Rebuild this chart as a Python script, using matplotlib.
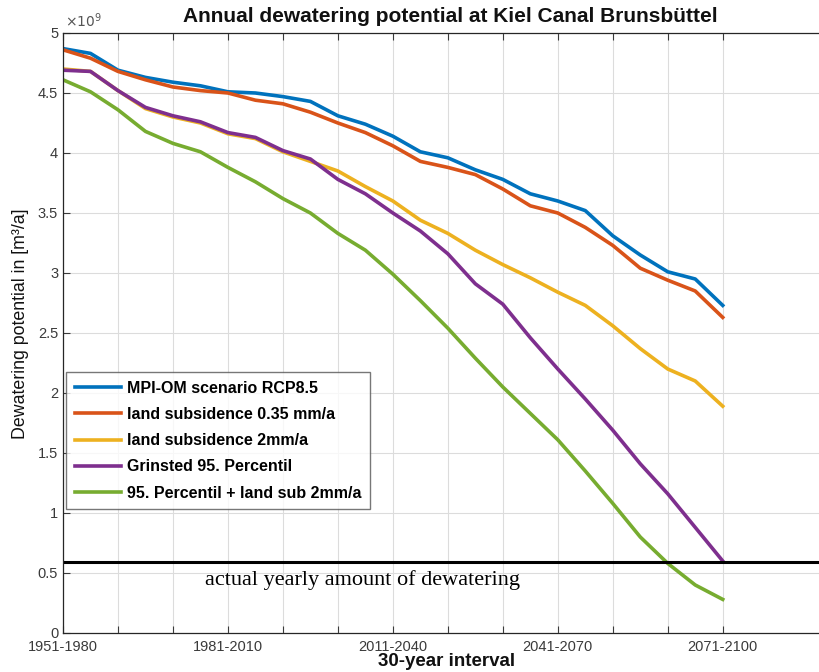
import matplotlib
matplotlib.use("Agg")
import matplotlib.pyplot as plt
import numpy as np

# start year offset (years since 1951) of each 30-year interval
years = list(range(0, 121, 5))

mpi_om = [4.87, 4.83, 4.69, 4.63, 4.59, 4.56, 4.51, 4.50, 4.47, 4.43, 4.31, 4.24, 4.14,
          4.01, 3.96, 3.86, 3.78, 3.66, 3.60, 3.52, 3.31, 3.15, 3.01, 2.95, 2.73]
sub_035 = [4.86, 4.79, 4.68, 4.61, 4.55, 4.52, 4.50, 4.44, 4.41, 4.34, 4.25, 4.17, 4.06,
           3.93, 3.88, 3.82, 3.70, 3.56, 3.50, 3.38, 3.23, 3.04, 2.94, 2.85, 2.63]
sub_2 = [4.70, 4.68, 4.52, 4.37, 4.30, 4.25, 4.16, 4.12, 4.01, 3.93, 3.85, 3.72, 3.60,
         3.44, 3.33, 3.19, 3.07, 2.96, 2.84, 2.73, 2.56, 2.37, 2.20, 2.10, 1.89]
grinsted95 = [4.69, 4.68, 4.52, 4.38, 4.31, 4.26, 4.17, 4.13, 4.02, 3.95, 3.78, 3.66, 3.50,
              3.35, 3.16, 2.91, 2.74, 2.46, 2.20, 1.95, 1.69, 1.41, 1.16, 0.88, 0.60]
p95_sub2 = [4.61, 4.51, 4.36, 4.18, 4.08, 4.01, 3.88, 3.76, 3.62, 3.50, 3.33, 3.19, 2.99,
            2.77, 2.54, 2.29, 2.05, 1.83, 1.61, 1.35, 1.08, 0.80, 0.58, 0.40, 0.28]

series_labels = ["MPI-OM scenario RCP8.5", "land subsidence 0.35 mm/a",
                 "land subsidence 2mm/a", "Grinsted 95. Percentil",
                 "95. Percentil + land sub 2mm/a"]
series_values = [mpi_om, sub_035, sub_2, grinsted95, p95_sub2]
colors = ["#0072BD", "#D95319", "#EDB120", "#7E2F8E", "#77AC30"]

actual_dewatering = 0.59  # x 1e9
xtick_pos = [0, 30, 60, 90, 120]
xtick_labels = ["1951-1980", "1981-2010", "2011-2040", "2041-2070", "2071-2100"]
yticks = [0, 0.5, 1, 1.5, 2, 2.5, 3, 3.5, 4, 4.5, 5]
ytick_labels = ["0", "0.5", "1", "1.5", "2", "2.5", "3", "3.5", "4", "4.5", "5"]

plt.rcParams['font.family'] = ['Liberation Sans', 'DejaVu Sans']

fig = plt.figure(figsize=(8.19, 6.72), dpi=100)
ax = fig.add_axes([63 / 819, 1 - 633 / 672, 1 - 63 / 819 + 0.01, 600 / 672])

for vals, lab, c in zip(series_values, series_labels, colors):
    ax.plot(years, vals, color=c, lw=2.6, label=lab, solid_joinstyle='round')

ax.axhline(actual_dewatering, color='black', lw=2.2)
ax.text(25.8, 0.44, "actual yearly amount of dewatering", family='Liberation Serif',
        fontsize=16, va='center', ha='left', color='black')

ax.set_xlim(0, 139)
ax.set_ylim(0, 5)
ax.set_xticks(range(0, 121, 10))
ax.set_xticklabels([xtick_labels[xtick_pos.index(t)] if t in xtick_pos else ""
                    for t in range(0, 121, 10)])
ax.set_yticks(yticks)
ax.set_yticklabels(ytick_labels)
ax.tick_params(direction='in', top=True, right=False, labelsize=10.5,
               colors='#3a3a3a', length=5, width=0.8)
ax.tick_params(axis='x', pad=5)
ax.grid(True, color='#dcdcdc', lw=0.8)
ax.set_axisbelow(True)
for side in ['left', 'bottom', 'top']:
    ax.spines[side].set_color('#262626')
    ax.spines[side].set_linewidth(0.9)
ax.spines['right'].set_visible(False)

ax.text(0.003, 1.005, r"$\times10^9$", transform=ax.transAxes, fontsize=10,
        color='#555555', ha='left', va='bottom')

fig.text(450 / 819, 1 - 17 / 672, "Annual dewatering potential at Kiel Canal Brunsbüttel",
         fontsize=15, fontweight='bold', ha='center', va='center', color='#111111')
fig.text(447 / 819, 1 - 661 / 672, "30-year interval", fontsize=13.5, fontweight='bold',
         ha='center', va='center', color='#111111')
fig.text(21 / 819, 1 - 324 / 672, "Dewatering potential in [m³/a]", fontsize=12.8,
         rotation=90, ha='center', va='center', color='#111111')

leg = ax.legend(loc='upper left', bbox_to_anchor=(3 / 764, (633 - 372) / 600),
                borderaxespad=0.0,
                frameon=True, fancybox=False, edgecolor='#555555',
                prop={'weight': 'bold', 'size': 11.5}, handlelength=2.9,
                labelspacing=0.7, borderpad=0.55, handletextpad=0.35)
leg.get_frame().set_linewidth(1.0)

fig.savefig("out.png", dpi=100)
